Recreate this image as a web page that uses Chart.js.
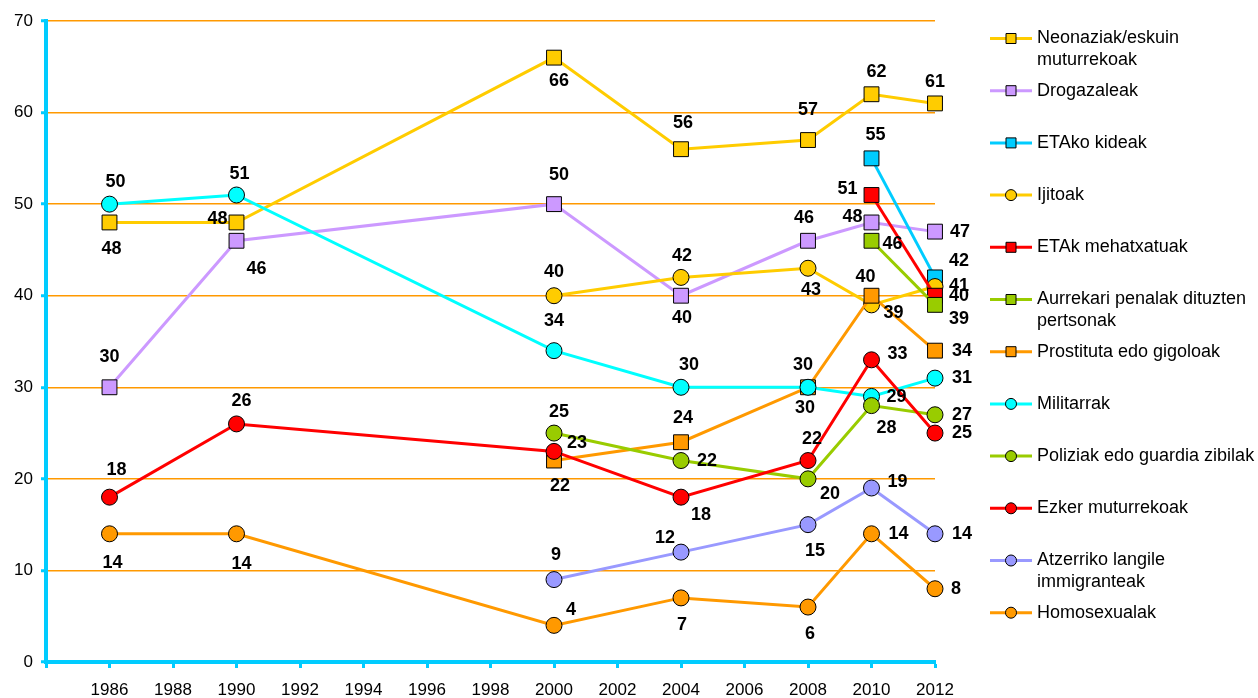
<!DOCTYPE html>
<html>
<head>
<meta charset="utf-8">
<script src="https://cdn.jsdelivr.net/npm/chart.js@4.4.1/dist/chart.umd.min.js"></script>
<style>
  body { margin: 0; background: #fff; }
  #wrap { width: 1258px; height: 698px; }
</style>
</head>
<body>
<div id="wrap"><canvas id="chart" width="1258" height="698"></canvas></div>
<script>
// survey years and values (null = not asked that year)
const years = [1986, 1990, 2000, 2004, 2008, 2010, 2012];
const neonaziak = [48, 48, 66, 56, 57, 62, 61];
const drogazaleak = [30, 46, 50, 40, 46, 48, 47];
const etakoKideak = [null, null, null, null, null, 55, 42];
const ijitoak = [null, null, 40, 42, 43, 39, 41];
const etakMehatxatuak = [null, null, null, null, null, 51, 40];
const aurrekariPenalak = [null, null, null, null, null, 46, 39];
const prostitutak = [null, null, 22, 24, 30, 40, 34];
const militarrak = [50, 51, 34, 30, 30, 29, 31];
const poliziak = [null, null, 25, 22, 20, 28, 27];
const ezkerMuturrekoak = [18, 26, 23, 18, 22, 33, 25];
const immigranteak = [null, null, 9, 12, 15, 19, 14];
const homosexualak = [14, 14, 4, 7, 6, 14, 8];

const yTicks = [0, 10, 20, 30, 40, 50, 60, 70];

// where each value label sits relative to its point (dx, dy in px)
const labelPos = [
  [[2, 27], [-19, -3], [5, 23], [2, -26], [0, -30], [5, -22], [0, -21]],
  [[0, -30], [20, 28], [5, -29], [1, 22], [-4, -23], [-19, -5], [25, 0]],
  [null, null, null, null, null, [4, -23], [24, -16]],
  [null, null, [0, -24], [1, -21], [3, 22], [22, 8], [24, -1]],
  [null, null, null, null, null, [-24, -6], [24, 0]],
  [null, null, null, null, null, [21, 3], [24, 14]],
  [null, null, [6, 25], [2, -24], [-5, -22], [-6, -19], [27, 0]],
  [[6, -22], [3, -21], [0, -30], [8, -22], [-3, 21], [25, 1], [27, 0]],
  [null, null, [5, -21], [26, 0], [22, 15], [15, 22], [27, 0]],
  [[7, -27], [5, -23], [23, -8], [20, 18], [4, -22], [26, -6], [27, 0]],
  [null, null, [2, -25], [-16, -14], [7, 26], [26, -6], [27, 0]],
  [[3, 29], [5, 30], [17, -15], [1, 27], [2, 27], [27, 0], [21, 0]]
];

const series = [
  { name: ["Neonaziak/eskuin", "muturrekoak"], values: neonaziak, color: "#FFCC00", shape: "rect" },
  { name: ["Drogazaleak"], values: drogazaleak, color: "#CC99FF", shape: "rect" },
  { name: ["ETAko kideak"], values: etakoKideak, color: "#00CCFF", shape: "rect" },
  { name: ["Ijitoak"], values: ijitoak, color: "#FFCC00", shape: "circle" },
  { name: ["ETAk mehatxatuak"], values: etakMehatxatuak, color: "#FF0000", shape: "rect" },
  { name: ["Aurrekari penalak dituzten", "pertsonak"], values: aurrekariPenalak, color: "#99CC00", shape: "rect" },
  { name: ["Prostituta edo gigoloak"], values: prostitutak, color: "#FF9900", shape: "rect" },
  { name: ["Militarrak"], values: militarrak, color: "#00FFFF", shape: "circle" },
  { name: ["Poliziak edo guardia zibilak"], values: poliziak, color: "#99CC00", shape: "circle" },
  { name: ["Ezker muturrekoak"], values: ezkerMuturrekoak, color: "#FF0000", shape: "circle" },
  { name: ["Atzerriko langile", "immigranteak"], values: immigranteak, color: "#9999FF", shape: "circle" },
  { name: ["Homosexualak"], values: homosexualak, color: "#FF9900", shape: "circle" }
];

Chart.defaults.font.family = 'Arial, "Liberation Sans", sans-serif';
Chart.defaults.color = "#000";

const datasets = series.map((s, i) => ({
  label: s.name.join(" "),
  data: years.map((yr, j) => ({ x: yr, y: s.values[j] })).filter(p => p.y !== null),
  borderColor: s.color,
  backgroundColor: s.color,
  borderWidth: 3,
  pointStyle: s.shape,
  pointRadius: s.shape === "rect" ? 10.5 : 8,
  pointBackgroundColor: s.color,
  pointBorderColor: "#000",
  pointBorderWidth: 1,
  tension: 0,
  clip: false,
  order: series.length - i
}));

// value labels next to each point
const valueLabels = {
  id: "valueLabels",
  afterDatasetsDraw(chart) {
    const ctx = chart.ctx;
    const xs = chart.scales.x, ys = chart.scales.y;
    ctx.save();
    ctx.font = "bold 18px Arial, 'Liberation Sans', sans-serif";
    ctx.fillStyle = "#000";
    ctx.textAlign = "center";
    ctx.textBaseline = "middle";
    series.forEach((s, i) => {
      s.values.forEach((v, j) => {
        if (v === null) return;
        const off = labelPos[i][j] || [0, -22];
        const px = xs.getPixelForValue(years[j]);
        const py = ys.getPixelForValue(v);
        ctx.fillText(String(v), px + off[0], py + off[1]);
      });
    });
    ctx.restore();
  }
};

// legend on the right, one row per series
const sideLegend = {
  id: "sideLegend",
  afterDraw(chart) {
    const ctx = chart.ctx;
    ctx.save();
    ctx.font = "18px Arial, 'Liberation Sans', sans-serif";
    ctx.textBaseline = "middle";
    ctx.textAlign = "left";
    series.forEach((s, i) => {
      const y = 38.5 + i * 52.2;
      ctx.strokeStyle = s.color;
      ctx.lineWidth = 3;
      ctx.beginPath();
      ctx.moveTo(990, y);
      ctx.lineTo(1032, y);
      ctx.stroke();
      ctx.fillStyle = s.color;
      ctx.strokeStyle = "#000";
      ctx.lineWidth = 1;
      ctx.beginPath();
      if (s.shape === "rect") {
        ctx.rect(1006, y - 5, 10, 10);
      } else {
        ctx.arc(1011, y, 5.5, 0, Math.PI * 2);
      }
      ctx.fill();
      ctx.stroke();
      ctx.fillStyle = "#000";
      s.name.forEach((line, k) => ctx.fillText(line, 1037, y + k * 22));
    });
    ctx.restore();
  }
};

new Chart(document.getElementById("chart"), {
  type: "line",
  data: { datasets },
  options: {
    responsive: false,
    animation: false,
    layout: { padding: { top: 21, right: 323, left: 0, bottom: 0 } },
    plugins: {
      legend: { display: false },
      tooltip: { enabled: false }
    },
    scales: {
      x: {
        type: "linear",
        min: 1984,
        max: 2012,
        afterFit: (scale) => { scale.height = 36; },
        ticks: {
          stepSize: 2,
          padding: 12,
          font: { size: 17 },
          color: "#000",
          callback: (v) => (v === 1984 ? "" : String(v))
        },
        grid: {
          drawOnChartArea: false,
          drawTicks: true,
          tickLength: 6,
          tickWidth: 3,
          tickColor: "#00CCFF"
        },
        border: { color: "#00CCFF", width: 4 }
      },
      y: {
        min: 0,
        max: 70,
        afterFit: (scale) => { scale.width = 46; },
        afterBuildTicks: (scale) => { scale.ticks = yTicks.map(v => ({ value: v })); },
        ticks: {
          padding: 8,
          font: { size: 17 },
          color: "#000"
        },
        grid: {
          color: "#FF9900",
          lineWidth: 1.5,
          tickLength: 5,
          tickWidth: 3,
          tickColor: "#00CCFF"
        },
        border: { color: "#00CCFF", width: 4 }
      }
    }
  },
  plugins: [valueLabels, sideLegend]
});
</script>
</body>
</html>
